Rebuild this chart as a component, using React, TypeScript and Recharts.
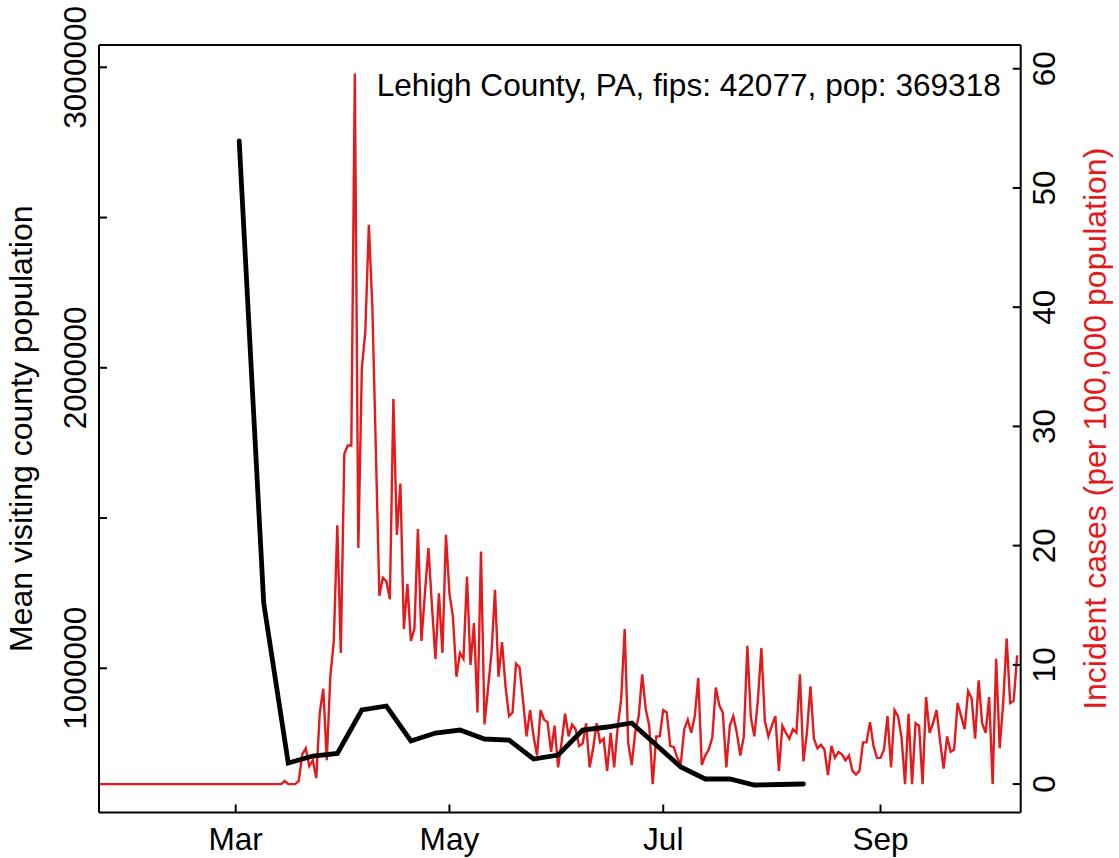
import React from 'react';
import { ComposedChart, Line, XAxis, YAxis, ReferenceLine, Label } from 'recharts';

// ---------------- data ----------------
// day index: 0 = 1 March
const RED_START_DAY = -39;
const redCases = [
  0, 0, 0, 0, 0, 0, 0, 0, 0, 0,
  0, 0, 0, 0, 0, 0, 0, 0, 0, 0,
  0, 0, 0, 0, 0, 0, 0, 0, 0, 0,
  0, 0, 0, 0, 0, 0, 0, 0, 0, 0,
  0, 0, 0, 0, 0, 0, 0, 0, 0, 0,
  0, 0, 0,
  0.27, 0, 0, 0, 0.27, 2.5, 3, 1.5, 2, 0.5,
  6, 8, 2, 9, 12, 21.7, 11, 27.7, 28.4, 28.4,
  59.6, 19.8, 34.9, 38.0, 46.9, 40, 28, 15.8, 17.3, 17.0,
  15.5, 32.3, 20.9, 25.2, 13, 16.8, 12, 13, 21.4, 12,
  16, 19.8, 15, 10.5, 16, 11, 20.9, 16, 14, 9,
  11, 10.5, 17.4, 10, 13.5, 6, 19.5, 5, 8, 11,
  16.3, 9,
  11.9, 8.2, 5.7, 6.0, 10.1, 9.8, 7.0, 4.0, 6.2, 4.0,
  2.4, 6.2, 5.4, 5.2, 2.7, 4.9, 1.4, 3.5, 5.9, 4.0,
  5.0, 4.6, 3.2, 3.4, 5.1, 1.4, 3.0, 5.1, 3.5, 3.8,
  1.1, 4.3, 1.4, 4.8, 7.1, 13.0, 3.5, 1.6, 4.3, 5.7,
  9.2, 6.3, 4.9, 0, 4.0, 4.0, 6.2, 6.0, 3.2, 3.1,
  2.2, 1.7, 4.6, 5.4, 4.3, 5.7, 8.9, 1.6, 2.4, 2.9,
  3.9, 8.1, 6.6, 6.0, 1.4, 4.9, 5.7, 4.3, 2.4, 4.0,
  11.6, 5.6, 4.0, 7.0, 11.4, 5.3, 4.0, 4.9, 5.7, 1.1,
  4.9, 4.3, 3.8, 4.6, 4.3, 9.2,
  1.9, 4.3, 8.2, 3.8, 3.0, 3.3, 2.9, 0.75, 3.2, 2.2,
  2.7, 2.5, 2.0, 2.4, 1.1, 0.8, 1.1, 3.5, 3.5, 5.2,
  3.2, 2.2, 2.2, 2.9, 5.7, 1.4, 6.2, 5.7, 3.9, 0,
  5.9, 0, 5.1, 4.9, 0, 7.3, 4.3, 5.1, 6.2, 3.6,
  1.3, 4.0, 2.7, 2.9, 6.8, 5.7, 4.6, 7.8, 7.2, 3.8,
  8.7, 5.1, 4.3, 7.3, 0, 10.5, 3.0, 6.8, 12.2, 6.8,
  7.0, 10.8,
];

const blackDays = [
  1, 8, 15, 22, 29, 36, 43, 50, 57, 64, 71, 78,
  85, 92, 99, 106, 113, 120, 127, 134, 141, 148, 155, 162,
];
const blackVisitors = [
  2754750, 1217300, 684850, 708150, 716500, 861230, 874540, 758070,
  784700, 794680, 764720, 761410, 698180, 711490, 794680, 804660,
  817970, 744760, 671550, 631620, 631620, 611650, 613310, 614980,
];

const monthTickDays = [0, 61, 122, 184];
const monthTickLabels = ['Mar', 'May', 'Jul', 'Sep'];
const leftTickValues = [1000000, 1500000, 2000000, 2500000, 3000000];
const leftLabeledTicks = [1000000, 2000000, 3000000];
const rightTickValues = [0, 10, 20, 30, 40, 50, 60];

const titleText = 'Lehigh County, PA, fips: 42077, pop: 369318';
const leftAxisTitle = 'Mean visiting county population';
const rightAxisTitle = 'Incident cases (per 100,000 population)';

const X_DOMAIN: [number, number] = [-39, 224];
const LEFT_DOMAIN: [number, number] = [520130, 3074220];
const RIGHT_DOMAIN: [number, number] = [-2.384, 61.99];

const data = redCases.map((v, i) => {
  const day = RED_START_DAY + i;
  const bi = blackDays.indexOf(day);
  return { day, red: v, black: bi >= 0 ? blackVisitors[bi] : null };
});

// ---------------- layout (page pixels) ----------------
const W = 1119;
const H = 858;
const PLOT_L = 99;
const PLOT_R = 1020.7;
const PLOT_T = 45;
const PLOT_B = 812.5;
const FONT = '"Liberation Sans", Arial, Helvetica, sans-serif';
const FS = 31.6;
const TITLE_FS = 32;
const RED = '#e41a1c';
const FRAME_W = 2;
const TICK_LEN = 8;

const XTick = (props: any) => {
  const { x, payload } = props;
  const idx = monthTickDays.indexOf(payload.value);
  return (
    <g>
      <line x1={x} x2={x} y1={PLOT_B} y2={PLOT_B - TICK_LEN} stroke="#000" strokeWidth={FRAME_W} />
      <text x={x} y={850} textAnchor="middle" fontSize={FS} fontFamily={FONT} fill="#000">
        {idx >= 0 ? monthTickLabels[idx] : ''}
      </text>
    </g>
  );
};

const LeftTick = (props: any) => {
  const { y, payload } = props;
  const show = leftLabeledTicks.indexOf(payload.value) >= 0;
  const bx = 86;
  return (
    <g>
      <line x1={PLOT_L} x2={PLOT_L + TICK_LEN} y1={y} y2={y} stroke="#000" strokeWidth={FRAME_W} />
      {show && (
        <text x={bx} y={y} transform={`rotate(-90, ${bx}, ${y})`} textAnchor="middle"
          fontSize={FS} fontFamily={FONT} fill="#000">
          {String(payload.value)}
        </text>
      )}
    </g>
  );
};

const RightTick = (props: any) => {
  const { y, payload } = props;
  const bx = 1055;
  return (
    <g>
      <line x1={PLOT_R - TICK_LEN} x2={PLOT_R} y1={y} y2={y} stroke="#000" strokeWidth={FRAME_W} />
      <text x={bx} y={y} transform={`rotate(-90, ${bx}, ${y})`} textAnchor="middle"
        fontSize={FS} fontFamily={FONT} fill="#000">
        {String(payload.value)}
      </text>
    </g>
  );
};

const midY = (PLOT_T + PLOT_B) / 2;

const LeftTitle = () => {
  const bx = 32;
  return (
    <text x={bx} y={midY} transform={`rotate(-90, ${bx}, ${midY})`} textAnchor="middle"
      fontSize={TITLE_FS} fontFamily={FONT} fill="#000">
      {leftAxisTitle}
    </text>
  );
};

const RightTitle = () => {
  const bx = 1106;
  return (
    <text x={bx} y={midY} transform={`rotate(-90, ${bx}, ${midY})`} textAnchor="middle"
      fontSize={TITLE_FS} fontFamily={FONT} fill={RED}>
      {rightAxisTitle}
    </text>
  );
};

const MainTitle = () => (
  <text x={376.7} y={96} textAnchor="start" fontSize={FS} fontFamily={FONT} fill="#000">
    {titleText}
  </text>
);

export default function App() {
  return (
    <div style={{ position: 'absolute', left: 0, top: 0, width: W, height: H }}>
      <ComposedChart width={W} height={H} data={data} margin={{ top: PLOT_T, right: 0, bottom: 0, left: 0 }}>
        <XAxis
          dataKey="day"
          type="number"
          domain={X_DOMAIN}
          allowDataOverflow
          ticks={monthTickDays}
          interval={0}
          height={H - PLOT_B}
          axisLine={{ stroke: '#000', strokeWidth: FRAME_W }}
          tickLine={false}
          tick={<XTick />}
        >
          <Label content={<MainTitle />} />
        </XAxis>
        <YAxis
          yAxisId="left"
          orientation="left"
          type="number"
          domain={LEFT_DOMAIN}
          allowDataOverflow
          ticks={leftTickValues}
          interval={0}
          width={PLOT_L}
          axisLine={{ stroke: '#000', strokeWidth: FRAME_W }}
          tickLine={false}
          tick={<LeftTick />}
        >
          <Label content={<LeftTitle />} />
        </YAxis>
        <YAxis
          yAxisId="right"
          orientation="right"
          type="number"
          domain={RIGHT_DOMAIN}
          allowDataOverflow
          ticks={rightTickValues}
          interval={0}
          width={W - PLOT_R}
          axisLine={{ stroke: '#000', strokeWidth: FRAME_W }}
          tickLine={false}
          tick={<RightTick />}
        >
          <Label content={<RightTitle />} />
        </YAxis>
        <ReferenceLine yAxisId="right" y={RIGHT_DOMAIN[1]} stroke="#000" strokeWidth={FRAME_W} />
        <Line
          yAxisId="right"
          dataKey="red"
          type="linear"
          stroke={RED}
          strokeWidth={2.4}
          dot={false}
          activeDot={false}
          isAnimationActive={false}
        />
        <Line
          yAxisId="left"
          dataKey="black"
          type="linear"
          stroke="#000"
          strokeWidth={4.8}
          dot={false}
          activeDot={false}
          connectNulls
          isAnimationActive={false}
          strokeLinecap="round"
        />
      </ComposedChart>
    </div>
  );
}
